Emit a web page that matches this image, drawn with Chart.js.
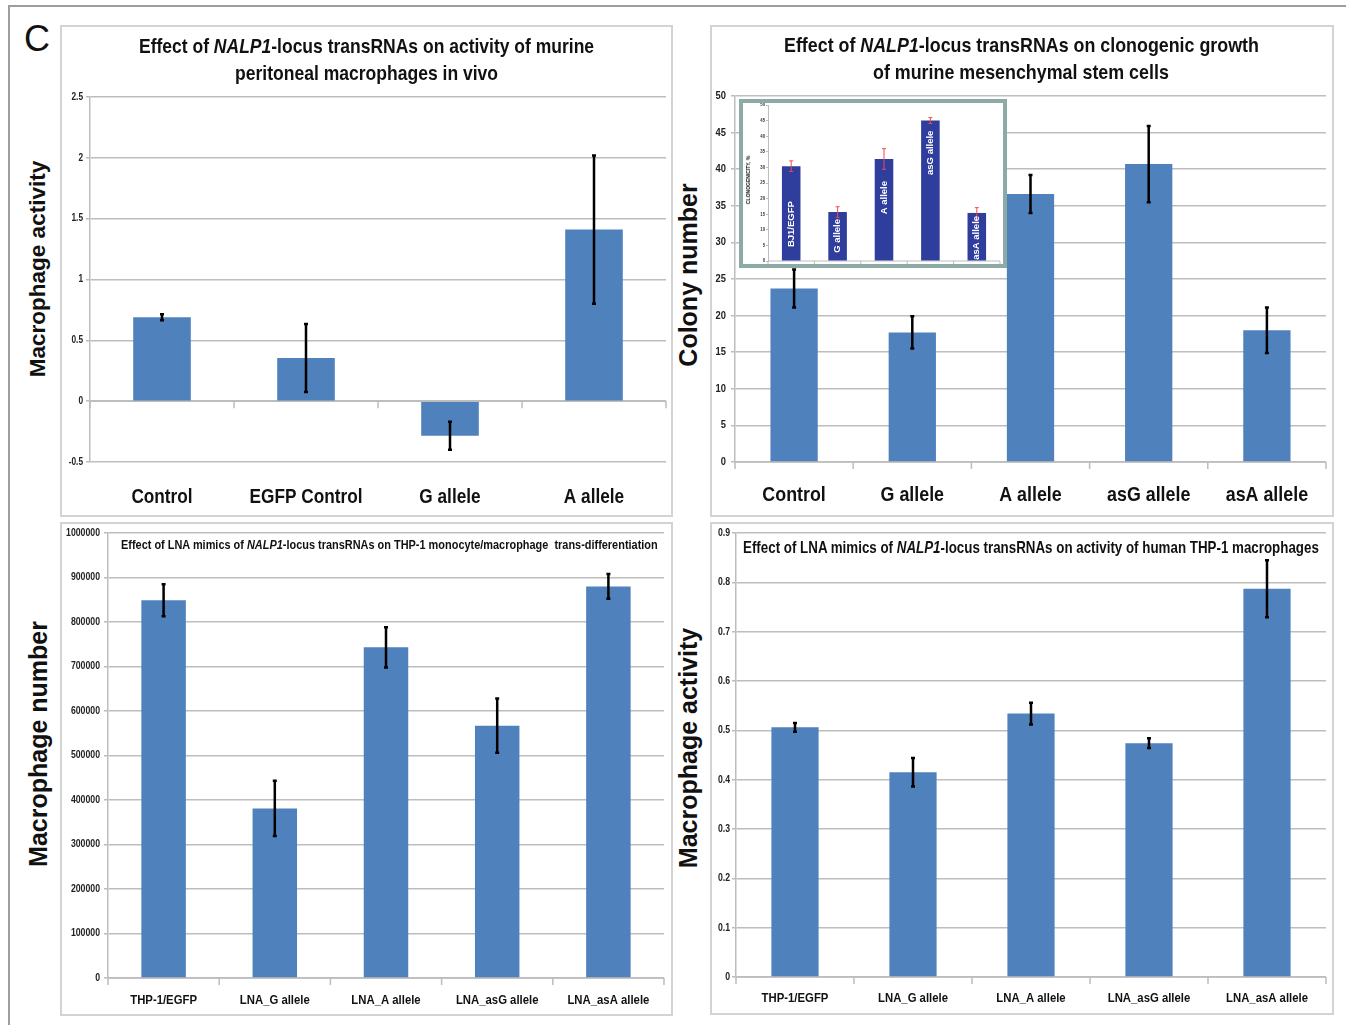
<!DOCTYPE html>
<html>
<head>
<meta charset="utf-8">
<script src="https://cdn.jsdelivr.net/npm/chart.js@4.4.1/dist/chart.umd.min.js"></script>
<style>
html, body { margin: 0; padding: 0; background: #fff; }
#page { position: relative; width: 1346px; height: 1025px; overflow: hidden; font-family: "Liberation Sans", Arial, sans-serif; color: #111; }
.frame { position: absolute; left: 8px; top: 5px; width: 1345px; height: 1030px; border-top: 2px solid #9d9d9d; border-left: 2px solid #9d9d9d; }
.box { position: absolute; box-sizing: border-box; border: 2px solid #d3d3d3; }
.inset { position: absolute; box-sizing: border-box; border: 4px solid #8eaaa6; background: #fff; }
canvas { position: absolute; }
.ttl { position: absolute; font-weight: bold; white-space: nowrap; color: #111; transform-origin: 0 50%; }
.ylab { position: absolute; font-weight: bold; white-space: nowrap; color: #111; transform: translate(-50%, -50%) rotate(-90deg); }
</style>
</head>
<body>
<div id="page">
  <div class="frame"></div>
  <div style="position:absolute;left:24px;top:19px;font-size:36px;line-height:40px;">C</div>

  <div class="box" style="left:60px;top:25px;width:613px;height:492px;"></div>
  <div class="box" style="left:710px;top:25px;width:624px;height:492px;"></div>
  <div class="box" style="left:60px;top:522px;width:613px;height:494px;"></div>
  <div class="box" style="left:710px;top:522px;width:624px;height:493px;"></div>

  <canvas id="c1" width="611" height="490" style="left:61px;top:26px;"></canvas>
  <canvas id="c2" width="623" height="490" style="left:710px;top:26px;"></canvas>
  <canvas id="c3" width="611" height="492" style="left:61px;top:523px;"></canvas>
  <canvas id="c4" width="623" height="492" style="left:710px;top:523px;"></canvas>

  <div class="inset" style="left:739px;top:99px;width:268px;height:169px;"></div>
  <canvas id="c5" width="260" height="161" style="left:743px;top:103px;"></canvas>

  <div class="ttl" data-w="455" style="left:139px;top:33px;font-size:21px;line-height:26px;">Effect of <i>NALP1</i>-locus transRNAs on activity of murine</div>
  <div class="ttl" data-w="263" style="left:235px;top:60px;font-size:21px;line-height:26px;">peritoneal macrophages in vivo</div>
  <div class="ttl" data-w="475" style="left:784px;top:32px;font-size:21px;line-height:26px;">Effect of <i>NALP1</i>-locus transRNAs on clonogenic growth</div>
  <div class="ttl" data-w="296" style="left:873px;top:59px;font-size:21px;line-height:26px;">of murine mesenchymal stem cells</div>
  <div class="ttl" data-w="537" style="left:121px;top:536px;font-size:13.5px;line-height:17px;">Effect of LNA mimics of <i>NALP1</i>-locus transRNAs on THP-1 monocyte/macrophage&nbsp; trans-differentiation</div>
  <div class="ttl" data-w="576" style="left:743px;top:537px;font-size:16.5px;line-height:20px;">Effect of LNA mimics of <i>NALP1</i>-locus transRNAs on activity of human THP-1 macrophages</div>

  <div class="ylab" style="left:38px;top:269px;font-size:22.5px;">Macrophage activity</div>
  <div class="ylab" style="left:688px;top:275px;font-size:25px;">Colony number</div>
  <div class="ylab" style="left:38px;top:744px;font-size:25px;">Macrophage number</div>
  <div class="ylab" style="left:688px;top:748px;font-size:25px;">Macrophage activity</div>
  <div class="ylab" style="left:748px;top:180px;font-size:5px;">CLONOGENICITY, %</div>
</div>

<script>
// --- dados ---
const p1Categories = ['Control', 'EGFP Control', 'G allele', 'A allele'];
const p1Values = [0.69, 0.355, -0.285, 1.41];
const p1Errors = [0.025, 0.28, 0.115, 0.61];
const p1Ticks = [-0.5, 0, 0.5, 1, 1.5, 2, 2.5];

const p2Categories = ['Control', 'G allele', 'A allele', 'asG allele', 'asA allele'];
const p2Values = [23.7, 17.7, 36.6, 40.7, 18.0];
const p2Errors = [2.6, 2.2, 2.6, 5.2, 3.1];
const p2Ticks = [0, 5, 10, 15, 20, 25, 30, 35, 40, 45, 50];

const insetCategories = ['BJ1/EGFP', 'G allele', 'A allele', 'asG allele', 'asA allele'];
const insetValues = [30.4, 15.7, 32.7, 45.0, 15.4];
const insetErrors = [1.7, 1.7, 3.3, 0.95, 1.7];
const insetTicks = [0, 5, 10, 15, 20, 25, 30, 35, 40, 45, 50];
const insetLabelGap = [35, 7, 22, 10, 3]; // distancia do topo da barra (px)

const p3Categories = ['THP-1/EGFP', 'LNA_G allele', 'LNA_A allele', 'LNA_asG allele', 'LNA_asA allele'];
const p3Values = [849000, 381000, 743000, 567000, 880000];
const p3Errors = [36000, 62000, 45000, 61000, 28000];
const p3Ticks = [0, 100000, 200000, 300000, 400000, 500000, 600000, 700000, 800000, 900000, 1000000];

const p4Categories = ['THP-1/EGFP', 'LNA_G allele', 'LNA_A allele', 'LNA_asG allele', 'LNA_asA allele'];
const p4Values = [0.506, 0.415, 0.534, 0.474, 0.787];
const p4Errors = [0.009, 0.029, 0.022, 0.010, 0.058];
const p4Ticks = [0, 0.1, 0.2, 0.3, 0.4, 0.5, 0.6, 0.7, 0.8, 0.9];

const FONT = '"Liberation Sans", Arial, sans-serif';
const GRID = '#bdbdbd';
const BLUE = '#4f81bd';

// titulos em fonte "estreita" (nao ha Arial Narrow): comprime na horizontal
document.querySelectorAll('.ttl[data-w]').forEach(el => {
    el.style.transform = 'scaleX(' + (el.dataset.w / el.offsetWidth) + ')';
});

// barras de erro
const errorBars = {
    id: 'errorBars',
    afterDatasetsDraw(chart, args, opts) {
        const ds = chart.data.datasets[0];
        const y = chart.scales.y;
        const ctx = chart.ctx;
        ctx.save();
        ctx.strokeStyle = opts.color;
        ctx.lineWidth = opts.width;
        chart.getDatasetMeta(0).data.forEach((bar, i) => {
            const hi = y.getPixelForValue(ds.data[i] + ds.errors[i]);
            const lo = y.getPixelForValue(ds.data[i] - ds.errors[i]);
            ctx.beginPath();
            ctx.moveTo(bar.x, hi); ctx.lineTo(bar.x, lo);
            ctx.moveTo(bar.x - opts.cap, hi); ctx.lineTo(bar.x + opts.cap, hi);
            ctx.moveTo(bar.x - opts.cap, lo); ctx.lineTo(bar.x + opts.cap, lo);
            ctx.stroke();
        });
        ctx.restore();
    }
};

// eixo horizontal no zero, com marcas entre as categorias
const zeroAxis = {
    id: 'zeroAxis',
    beforeDatasetsDraw(chart, args, opts) {
        const x = chart.scales.x, y = chart.scales.y;
        const ctx = chart.ctx;
        const y0 = y.getPixelForValue(0);
        const n = chart.data.labels.length;
        const half = (x.getPixelForValue(1) - x.getPixelForValue(0)) / 2;
        ctx.save();
        ctx.strokeStyle = opts.color;
        ctx.lineWidth = opts.width;
        ctx.beginPath();
        ctx.moveTo(chart.chartArea.left, y0); ctx.lineTo(chart.chartArea.right, y0);
        for (let i = 0; i <= n; i++) {
            const px = x.getPixelForValue(0) - half + i * half * 2;
            ctx.moveTo(px, y0); ctx.lineTo(px, y0 + opts.tick);
        }
        ctx.stroke();
        ctx.restore();
    }
};

// rotulos dos eixos, comprimidos na horizontal
const narrowTicks = {
    id: 'narrowTicks',
    afterDraw(chart, args, opts) {
        const ctx = chart.ctx;
        ['x', 'y'].forEach(id => {
            const o = opts[id];
            if (!o || !o.size) return;
            const s = chart.scales[id];
            ctx.save();
            ctx.font = 'bold ' + o.size + 'px ' + FONT;
            ctx.fillStyle = o.color;
            ctx.textBaseline = 'middle';
            ctx.textAlign = id === 'x' ? 'center' : 'right';
            s.ticks.forEach((t, i) => {
                const txt = id === 'x' ? chart.data.labels[i] : String(t.value);
                const px = id === 'x' ? s.getPixelForValue(i) : s.right - o.off;
                const py = id === 'x' ? s.top + o.off : s.getPixelForValue(t.value);
                ctx.save();
                ctx.translate(px, py);
                ctx.scale(o.stretch, 1);
                ctx.fillText(txt, 0, 0);
                ctx.restore();
            });
            ctx.restore();
        });
    }
};

// rotulos dentro das barras (grafico pequeno)
const innerLabels = {
    id: 'innerLabels',
    afterDatasetsDraw(chart, args, opts) {
        if (!opts.show) return;
        const ds = chart.data.datasets[0];
        const ctx = chart.ctx;
        ctx.save();
        ctx.fillStyle = '#fff';
        ctx.font = 'bold ' + opts.size + 'px ' + FONT;
        ctx.textAlign = 'right';
        ctx.textBaseline = 'middle';
        chart.getDatasetMeta(0).data.forEach((bar, i) => {
            ctx.save();
            ctx.translate(bar.x, bar.y + ds.labelGap[i]);
            ctx.rotate(-Math.PI / 2);
            ctx.fillText(chart.data.labels[i], 0, 0);
            ctx.restore();
        });
        ctx.restore();
    }
};

function criarGrafico(id, o) {
    return new Chart(document.getElementById(id), {
        type: 'bar',
        data: {
            labels: o.labels,
            datasets: [{
                data: o.values,
                errors: o.errors,
                labelGap: o.labelGap,
                backgroundColor: o.barColor || BLUE,
                borderWidth: 0,
                barPercentage: 0.4,
                categoryPercentage: 1
            }]
        },
        options: {
            responsive: false,
            animation: false,
            devicePixelRatio: 1,
            layout: { padding: o.padding },
            plugins: {
                legend: { display: false },
                tooltip: { enabled: false },
                errorBars: o.err,
                zeroAxis: o.axis,
                narrowTicks: o.tickText,
                innerLabels: { show: !!o.labelGap, size: 9.5 }
            },
            scales: {
                x: {
                    grid: { display: false, drawTicks: false },
                    border: { display: false },
                    ticks: { display: false },
                    afterFit: s => { s.height = o.xHeight; }
                },
                y: {
                    min: o.ticks[0],
                    max: o.ticks[o.ticks.length - 1],
                    afterBuildTicks: s => { s.ticks = o.ticks.map(v => ({ value: v })); },
                    ticks: { display: false },
                    grid: { color: GRID, lineWidth: o.gridWidth, tickLength: o.tickLen, drawOnChartArea: o.gridOn !== false },
                    border: { color: GRID, width: o.gridWidth },
                    afterFit: s => { s.width = o.yWidth; }
                }
            }
        },
        plugins: [zeroAxis, errorBars, innerLabels, narrowTicks]
    });
}

const erroPreto = { color: '#000', width: 2.5, cap: 2 };
const eixo = { color: GRID, width: 1.5, tick: 7 };

criarGrafico('c1', {
    labels: p1Categories, values: p1Values, errors: p1Errors, ticks: p1Ticks,
    padding: { top: 71, right: 6, left: 0, bottom: 0 },
    xHeight: 54, yWidth: 29, tickLen: 4, gridWidth: 1.5,
    tickText: {
        x: { size: 21, stretch: 0.82, off: 35, color: '#111' },
        y: { size: 10, stretch: 0.83, off: 7, color: '#222' }
    },
    err: erroPreto, axis: eixo
});

criarGrafico('c2', {
    labels: p2Categories, values: p2Values, errors: p2Errors, ticks: p2Ticks,
    padding: { top: 70, right: 7, left: 0, bottom: 0 },
    xHeight: 54, yWidth: 25, tickLen: 4, gridWidth: 1.5,
    tickText: {
        x: { size: 21, stretch: 0.85, off: 33, color: '#111' },
        y: { size: 11, stretch: 0.85, off: 9, color: '#222' }
    },
    err: erroPreto, axis: eixo
});

criarGrafico('c3', {
    labels: p3Categories, values: p3Values, errors: p3Errors, ticks: p3Ticks,
    padding: { top: 10, right: 8, left: 0, bottom: 0 },
    xHeight: 37, yWidth: 47, tickLen: 4, gridWidth: 1.5,
    tickText: {
        x: { size: 13.5, stretch: 0.84, off: 22, color: '#111' },
        y: { size: 10.5, stretch: 0.83, off: 8, color: '#222' }
    },
    err: erroPreto, axis: eixo
});

criarGrafico('c4', {
    labels: p4Categories, values: p4Values, errors: p4Errors, ticks: p4Ticks,
    padding: { top: 10, right: 7, left: 0, bottom: 0 },
    xHeight: 38, yWidth: 26, tickLen: 4, gridWidth: 1.5,
    tickText: {
        x: { size: 13.5, stretch: 0.84, off: 21, color: '#111' },
        y: { size: 10.5, stretch: 0.83, off: 6, color: '#222' }
    },
    err: erroPreto, axis: eixo
});

// grafico pequeno dentro do painel de colonias
criarGrafico('c5', {
    labels: insetCategories, values: insetValues, errors: insetErrors, ticks: insetTicks,
    labelGap: insetLabelGap, barColor: '#2f3d9c',
    padding: { top: 2, right: 3, left: 0, bottom: 0 },
    xHeight: 3, yWidth: 25, tickLen: 2, gridWidth: 1, gridOn: false,
    tickText: {
        y: { size: 5, stretch: 0.85, off: 3, color: '#333' }
    },
    err: { color: '#ef4b4b', width: 1, cap: 2 }, axis: { color: GRID, width: 1, tick: 3 }
});
</script>
</body>
</html>
